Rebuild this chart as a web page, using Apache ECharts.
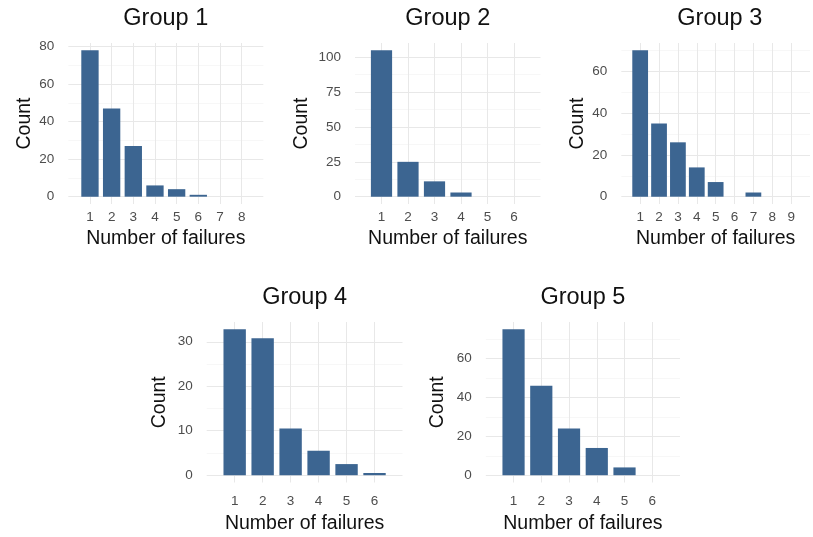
<!DOCTYPE html>
<html>
<head>
<meta charset="utf-8">
<script src="https://cdn.jsdelivr.net/npm/echarts@6/dist/echarts.min.js"></script>
<style>
  html, body { margin: 0; padding: 0; background: #ffffff; }
  #chart { width: 813px; height: 537px; }
</style>
</head>
<body>
<div id="chart"></div>
<script>
// Failure-count distributions, one bar panel per group
const groupNames = ['Group 1', 'Group 2', 'Group 3', 'Group 4', 'Group 5'];

const failures1 = [1, 2, 3, 4, 5, 6, 7, 8];
const counts1   = [78, 47, 27, 6, 4, 1, 0, 0];

const failures2 = [1, 2, 3, 4, 5, 6];
const counts2   = [105, 25, 11, 3, 0, 0];

const failures3 = [1, 2, 3, 4, 5, 6, 7, 8, 9];
const counts3   = [70, 35, 26, 14, 7, 0, 2, 0, 0];

const failures4 = [1, 2, 3, 4, 5, 6];
const counts4   = [32.8, 30.8, 10.5, 5.5, 2.5, 0.5];

const failures5 = [1, 2, 3, 4, 5, 6];
const counts5   = [75, 46, 24, 14, 4, 0];

const yStep = [20, 25, 20, 10, 20];

const xAxisTitle = 'Number of failures';
const yAxisTitle = 'Count';

const allFailures = [failures1, failures2, failures3, failures4, failures5];
const allCounts = [counts1, counts2, counts3, counts4, counts5];

// Panel boxes in pixels: plot-area left, right edge, top, bottom edge,
// plus the gaps used for the axis labels and axis titles of each panel
const W = 813, H = 537;
const panels = [
  { x0: 68.3,  x1: 263.3, y0: 43,  y1: 204,   yGap: 34, xLab: 6,  xGap: 25 },
  { x0: 355,   x1: 540.5, y0: 43,  y1: 204,   yGap: 43, xLab: 6,  xGap: 25 },
  { x0: 621.3, x1: 818.3, y0: 43,  y1: 204,   yGap: 34, xLab: 6,  xGap: 25 },
  { x0: 206.7, x1: 402.5, y0: 322, y1: 482.5, yGap: 37, xLab: 12, xGap: 31 },
  { x0: 485.8, x1: 680,   y0: 322, y1: 482.5, yGap: 38, xLab: 12, xGap: 31 }
];

const FONT = '"Liberation Sans", Arial, Helvetica, sans-serif';
const BAR = '#3c6591';
const GRID_MAJOR = '#e8e8e8';
const GRID_MINOR = '#f2f2f2';
const TICK_TEXT = '#4d4d4d';

const grids = [], xAxes = [], yAxes = [], series = [], titles = [];

panels.forEach((p, i) => {
  const fx = allFailures[i];
  const cy = allCounts[i];
  const n = fx.length;
  const xMax = n + 1;
  const top = Math.max(...cy);
  const step = yStep[i];
  const unitPx = (p.x1 - p.x0) / xMax;

  grids.push({ left: p.x0, right: W - p.x1, top: p.y0, bottom: H - p.y1, containLabel: false });

  titles.push({
    text: groupNames[i],
    left: (p.x0 + p.x1) / 2,
    top: p.y0 - 36,
    textAlign: 'center',
    padding: 0,
    textStyle: { fontFamily: FONT, fontSize: 23.5, fontWeight: 'normal', color: '#111' }
  });

  xAxes.push({
    type: 'value', gridIndex: i, min: 0, max: xMax, interval: 1,
    axisLine: { show: false, onZero: false },
    axisTick: { show: false },
    axisLabel: {
      margin: p.xLab, fontFamily: FONT, fontSize: 13.5, color: TICK_TEXT,
      formatter: v => (v >= 1 && v <= n) ? String(v) : ''
    },
    splitLine: { show: true, showMinLine: false, showMaxLine: false,
                 lineStyle: { color: GRID_MAJOR, width: 1 } },
    name: xAxisTitle, nameLocation: 'middle', nameGap: p.xGap,
    nameTextStyle: { fontFamily: FONT, fontSize: 19.5, color: '#111' }
  });

  yAxes.push({
    type: 'value', gridIndex: i,
    min: -0.05 * top, max: 1.05 * top,
    minInterval: step, maxInterval: step,
    axisLine: { show: false, onZero: false },
    axisTick: { show: false },
    axisLabel: {
      margin: 14, fontFamily: FONT, fontSize: 13.5, color: TICK_TEXT,
      formatter: v => (Math.abs(v / step - Math.round(v / step)) < 1e-6) ? String(Math.round(v)) : ''
    },
    splitLine: { show: true, showMinLine: false, showMaxLine: false,
                 lineStyle: { color: GRID_MAJOR, width: 1 } },
    minorTick: { show: false, splitNumber: 2 },
    minorSplitLine: { show: true, lineStyle: { color: GRID_MINOR, width: 0.6 } },
    name: yAxisTitle, nameLocation: 'middle', nameGap: p.yGap,
    nameTextStyle: { fontFamily: FONT, fontSize: 19.5, color: '#111' }
  });

  series.push({
    type: 'bar', xAxisIndex: i, yAxisIndex: i,
    barWidth: unitPx * 0.8,
    itemStyle: { color: BAR },
    silent: true,
    data: fx.map((f, j) => [f, cy[j]])
  });
});

const chart = echarts.init(document.getElementById('chart'), null, { renderer: 'canvas' });
chart.setOption({
  animation: false,
  backgroundColor: '#ffffff',
  title: titles,
  grid: grids,
  xAxis: xAxes,
  yAxis: yAxes,
  series: series
});
</script>
</body>
</html>
